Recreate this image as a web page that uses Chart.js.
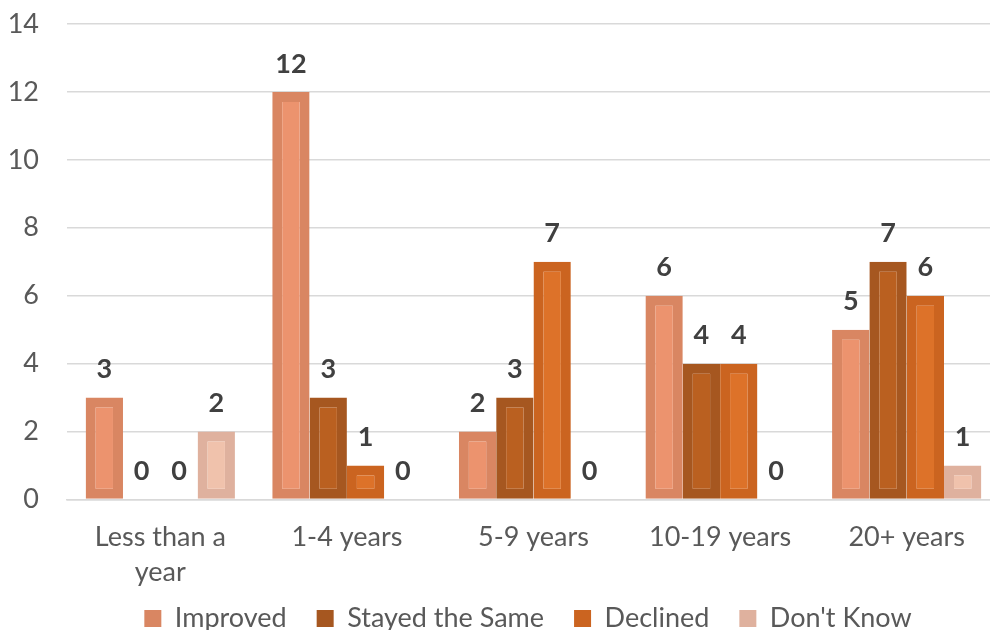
<!DOCTYPE html>
<html>
<head>
<meta charset="utf-8">
<script src="https://cdn.jsdelivr.net/npm/chart.js@4.4.1/dist/chart.umd.min.js"></script>
<style>
  html, body { margin: 0; padding: 0; background: #ffffff; overflow: hidden; }
  #wrap { width: 1000px; height: 642px; position: relative; }
</style>
</head>
<body>
<div id="wrap"><canvas id="chart"></canvas></div>
<script>
// Tenure groups and survey answers per group
const categories = [["Less than a", "year"], "1-4 years", "5-9 years", "10-19 years", "20+ years"];
const improved   = [3, 12, 2, 6, 5];
const stayedSame = [0, 3, 3, 4, 7];
const declined   = [0, 1, 7, 4, 6];
const dontKnow   = [2, 0, 0, 0, 1];
const yTicks     = [0, 2, 4, 6, 8, 10, 12, 14];

const FONT = "Lato, 'Open Sans', sans-serif";

// outer (edge) and inner (glow) colour for each series
const palette = [
  { label: "Improved",        data: improved,   edge: "#D98662", fill: "#EC936E" },
  { label: "Stayed the Same", data: stayedSame, edge: "#A65720", fill: "#BA6020" },
  { label: "Declined",        data: declined,   edge: "#CB6420", fill: "#DD7229" },
  { label: "Don't Know",      data: dontKnow,   edge: "#DFB19E", fill: "#F0C2AC" }
];

// writes each bar's value above it
const valueLabels = {
  id: "valueLabels",
  afterDatasetsDraw(chart) {
    const ctx = chart.ctx;
    ctx.save();
    ctx.font = "bold 27px " + FONT;
    ctx.fillStyle = "#404040";
    ctx.textAlign = "center";
    ctx.textBaseline = "middle";
    chart.data.datasets.forEach((ds, i) => {
      chart.getDatasetMeta(i).data.forEach((bar, j) => {
        ctx.fillText(String(ds.data[j]), bar.x, bar.y - 28);
      });
    });
    ctx.restore();
  }
};

// let tick labels run past their axis box instead of being clipped
const noLabelClip = axis => { axis._computeLabelArea = () => undefined; };

new Chart(document.getElementById("chart"), {
  type: "bar",
  data: {
    labels: categories,
    datasets: palette.map(p => ({
      label: p.label,
      data: p.data,
      backgroundColor: p.fill,
      borderColor: p.edge,
      borderWidth: 10,
      borderSkipped: false,
      categoryPercentage: 0.8,
      barPercentage: 1.0
    }))
  },
  options: {
    responsive: true,
    maintainAspectRatio: false,
    animation: false,
    layout: { padding: { left: 56, right: 0, top: 24, bottom: 0 } },
    plugins: {
      tooltip: { enabled: false },
      legend: {
        position: "bottom",
        labels: {
          font: { family: FONT, size: 27 },
          color: "#595959",
          boxWidth: 17,
          boxHeight: 17,
          padding: 30,
          generateLabels(chart) {
            return chart.data.datasets.map((ds, i) => ({
              text: ds.label,
              fillStyle: ds.borderColor,
              strokeStyle: ds.borderColor,
              lineWidth: 0,
              fontColor: "#595959",
              datasetIndex: i,
              hidden: false
            }));
          }
        }
      }
    },
    scales: {
      x: {
        grid: { display: false, drawTicks: false },
        border: { display: true, color: "#D9D9D9", width: 1.5 },
        afterFit(axis) {
          axis.height = 75.5;
          axis.paddingTop = 0;
          axis.paddingBottom = 0;
          noLabelClip(axis);
        },
        ticks: {
          color: "#595959",
          font: { family: FONT, size: 27, lineHeight: 1.3 },
          padding: 20.5,
          maxRotation: 0
        }
      },
      y: {
        min: 0,
        max: 14,
        afterBuildTicks(axis) { axis.ticks = yTicks.map(v => ({ value: v })); },
        afterFit(axis) {
          axis.width = 11;
          axis.paddingTop = 0;
          axis.paddingBottom = 0;
          noLabelClip(axis);
        },
        grid: { color: "#D9D9D9", lineWidth: 1.5, drawTicks: false },
        border: { display: false },
        ticks: {
          color: "#595959",
          font: { family: FONT, size: 27 },
          padding: 28
        }
      }
    }
  },
  plugins: [valueLabels]
});
</script>
</body>
</html>
